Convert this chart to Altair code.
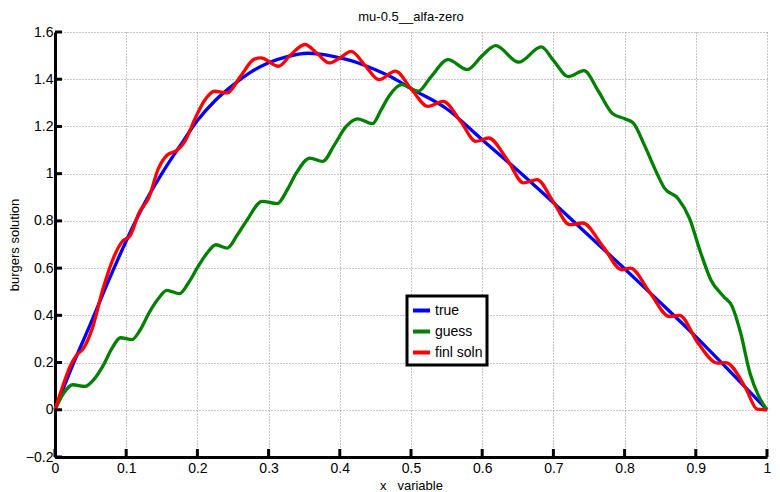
import altair as alt
import pandas as pd

# ---- data ----
true_x = [0, 0.025, 0.05, 0.075, 0.1, 0.125, 0.15, 0.175, 0.2, 0.225, 0.25, 0.275, 0.3, 0.325,
          0.355, 0.375, 0.4, 0.425, 0.45, 0.475, 0.5, 0.55, 0.6, 0.65, 0.7, 0.75, 0.8, 0.85,
          0.9, 0.95, 1.0]
true_y = [0, 0.19, 0.365, 0.545, 0.715, 0.87, 1.0, 1.115, 1.225, 1.31, 1.375, 1.43, 1.47, 1.495,
          1.51, 1.505, 1.49, 1.47, 1.44, 1.405, 1.36, 1.275, 1.144, 1.013, 0.877, 0.737, 0.597,
          0.455, 0.31, 0.156, 0]

guess_x = [0, 0.012, 0.025, 0.042, 0.055, 0.067, 0.08, 0.092, 0.108, 0.12, 0.132, 0.145, 0.157,
           0.175, 0.188, 0.201, 0.214, 0.226, 0.242, 0.256, 0.27, 0.291, 0.312, 0.326, 0.339,
           0.358, 0.376, 0.392, 0.409, 0.425, 0.446, 0.458, 0.469, 0.487, 0.51, 0.528, 0.552,
           0.579, 0.6, 0.619, 0.651, 0.683, 0.7, 0.721, 0.743, 0.763, 0.783, 0.801, 0.812,
           0.828, 0.843, 0.856, 0.875, 0.891, 0.907, 0.921, 0.939, 0.951, 0.963, 0.976, 0.988,
           1.0]
guess_y = [0, 0.07, 0.106, 0.099, 0.13, 0.184, 0.26, 0.305, 0.297, 0.34, 0.41, 0.47, 0.506,
           0.492, 0.54, 0.607, 0.665, 0.699, 0.685, 0.74, 0.805, 0.883, 0.873, 0.93, 1.003,
           1.066, 1.052, 1.12, 1.2, 1.232, 1.212, 1.27, 1.328, 1.377, 1.349, 1.41, 1.483,
           1.441, 1.5, 1.542, 1.472, 1.537, 1.48, 1.411, 1.436, 1.35, 1.255, 1.232, 1.215,
           1.12, 1.017, 0.939, 0.895, 0.812, 0.664, 0.551, 0.48, 0.438, 0.325, 0.156, 0.06,
           0.0]

soln_x = [0, 0.012, 0.021, 0.03, 0.04, 0.053, 0.067, 0.083, 0.095, 0.105, 0.118, 0.132, 0.145,
          0.158, 0.172, 0.183, 0.196, 0.21, 0.224, 0.242, 0.26, 0.28, 0.289, 0.314, 0.33, 0.351,
          0.368, 0.385, 0.4, 0.416, 0.435, 0.455, 0.478, 0.5, 0.524, 0.545, 0.57, 0.591, 0.609,
          0.635, 0.658, 0.677, 0.7, 0.723, 0.741, 0.77, 0.796, 0.808, 0.836, 0.863, 0.877,
          0.903, 0.93, 0.942, 0.97, 0.986, 1.0]
soln_y = [0, 0.11, 0.183, 0.23, 0.26, 0.35, 0.508, 0.65, 0.715, 0.735, 0.834, 0.9, 1.02, 1.08,
          1.1, 1.14, 1.229, 1.31, 1.349, 1.342, 1.41, 1.485, 1.49, 1.455, 1.5, 1.547, 1.51,
          1.469, 1.49, 1.518, 1.46, 1.398, 1.434, 1.36, 1.285, 1.306, 1.22, 1.137, 1.151, 1.06,
          0.961, 0.975, 0.88, 0.784, 0.791, 0.69, 0.593, 0.6, 0.494, 0.395, 0.4, 0.283, 0.198,
          0.2, 0.092, 0.003, 0.0]

series_names = ["true", "guess", "finl soln"]
series_colors = ["#0000ff", "#008000", "#ff0000"]

x_ticks = [0, 0.1, 0.2, 0.3, 0.4, 0.5, 0.6, 0.7, 0.8, 0.9, 1]
y_ticks = [-0.2, 0, 0.2, 0.4, 0.6, 0.8, 1, 1.2, 1.4, 1.6]

rows = []
for name, xs, ys in zip(series_names, [true_x, guess_x, soln_x], [true_y, guess_y, soln_y]):
    for a, b in zip(xs, ys):
        rows.append({"series": name, "x": a, "y": b})
df = pd.DataFrame(rows)

FONT = "Liberation Sans"
W, H = 712, 425

xscale = alt.Scale(domain=[0, 1], nice=False, zero=False)
yscale = alt.Scale(domain=[-0.2, 1.6], nice=False, zero=False)

xaxis = alt.Axis(values=x_ticks, format="~g", title="x\u00a0\u00a0\u00a0variable",
                 titlePadding=4, labelPadding=4, labelFlush=False)
yaxis = alt.Axis(values=y_ticks, format="~g", title="burgers solution", titlePadding=4,
                 labelPadding=2)

color = alt.Color(
    "series:N",
    scale=alt.Scale(domain=series_names, range=series_colors),
    legend=alt.Legend(
        title=None, orient="none", legendX=352, legendY=264,
        strokeColor="black", fillColor="white", padding=4, rowPadding=2,
        symbolType="stroke", symbolSize=289, symbolStrokeWidth=4,
        labelFontSize=14, labelFont=FONT, labelColor="black", labelOffset=3,
    ),
)

base = alt.Chart(df)
layers = []
for name in series_names:
    layers.append(
        base.transform_filter(alt.datum.series == name)
        .mark_line(strokeWidth=3.3, interpolate="monotone")
        .encode(
            x=alt.X("x:Q", scale=xscale, axis=xaxis),
            y=alt.Y("y:Q", scale=yscale, axis=yaxis),
            color=color,
        )
    )

xt = alt.Chart(pd.DataFrame({"t": x_ticks})).mark_rule(color="black", strokeWidth=3).encode(
    x=alt.X("t:Q", scale=xscale, axis=xaxis), y=alt.value(H), y2=alt.value(H - 8)
)
yt = alt.Chart(pd.DataFrame({"t": y_ticks})).mark_rule(color="black", strokeWidth=3).encode(
    y=alt.Y("t:Q", scale=yscale, axis=yaxis), x=alt.value(0), x2=alt.value(7)
)

chart = (
    alt.layer(*layers, xt, yt)
    .properties(
        width=W, height=H,
        title=alt.TitleParams("mu-0.5__alfa-zero", fontSize=13, font=FONT,
                              fontWeight="normal", offset=1,
                              anchor="middle", color="black"),
        autosize=alt.AutoSizeParams(type="none"),
        padding={"left": 47, "top": 24, "right": 5, "bottom": 36},
    )
    .configure_view(stroke=None)
    .configure_axis(
        domainColor="black", domainWidth=3, ticks=False,
        labelColor="black", labelFont=FONT, labelFontSize=14,
        titleColor="black", titleFont=FONT, titleFontSize=13, titleFontWeight="normal",
        gridColor="#8c8c8c", gridDash=[1, 2], gridWidth=1, gridOpacity=1, grid=True,
    )
    .configure_legend(strokeWidth=3)
)

chart.save("out.html", embed_options={"renderer": "svg", "actions": False})
